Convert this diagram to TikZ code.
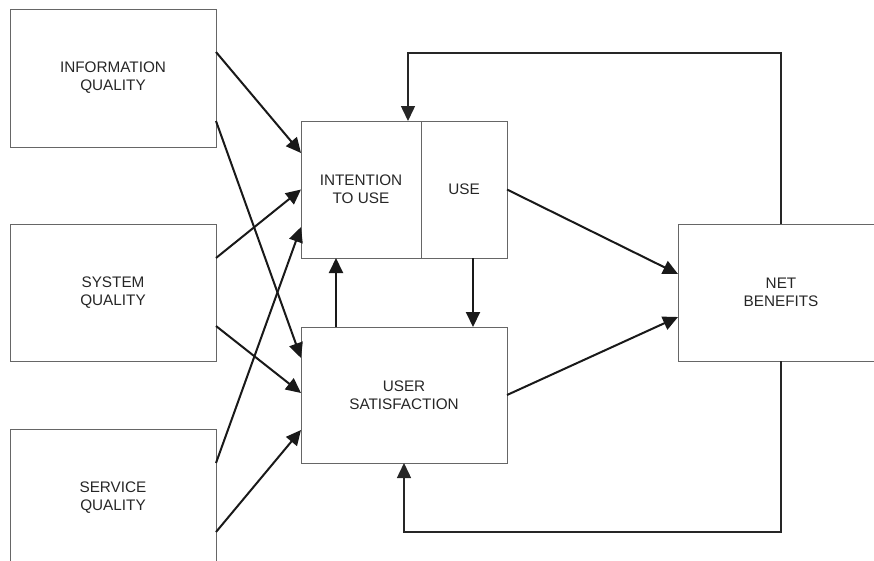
\documentclass[tikz,border=0pt]{standalone}
\usepackage{fontspec}
\setmainfont{Liberation Sans}
\usetikzlibrary{arrows.meta}
\begin{document}
\begin{tikzpicture}[x=1pt,y=-1pt,
  box/.style={draw=black!60, line width=1pt, rectangle, inner sep=0pt, outer sep=0pt,
    align=center, text=black!85, font=\fontsize{15.3pt}{18pt}\selectfont},
  arr/.style={draw=black!90, line width=2pt, -{Triangle[length=15pt,width=14pt]}},
  fb/.style={draw=black!85, line width=1.5pt, -{Triangle[length=15pt,width=14pt]}}]
\useasboundingbox (0,0) rectangle (874,560);
\clip (0,0) rectangle (874,560);
% boxes
\node[box, minimum width=206pt, minimum height=138pt] (iq) at (113,78) {INFORMATION\\QUALITY};
\node[box, minimum width=206pt, minimum height=137pt] (sq) at (113,292.5) {SYSTEM\\QUALITY};
\node[box, minimum width=206pt, minimum height=137pt] (svq) at (113,497.5) {SERVICE\\QUALITY};
\node[box, minimum width=120pt, minimum height=137pt] (int) at (361,189.5) {INTENTION\\TO USE};
\node[box, minimum width=86pt, minimum height=137pt] (use) at (464,189.5) {USE};
\node[box, minimum width=206pt, minimum height=136pt] (us) at (404,395) {USER\\SATISFACTION};
\node[box, minimum width=206pt, minimum height=137pt] (nb) at (781,292.5) {NET\\BENEFITS};
\coordinate (top) at (0,53);
\coordinate (bot) at (0,532);
% quality -> intention / satisfaction
\draw[arr] ([yshift=26pt]iq.east) -- ([yshift=36.5pt]int.west);
\draw[arr] ([yshift=-43pt]iq.east) -- ([yshift=37pt]us.west);
\draw[arr] ([yshift=34.5pt]sq.east) -- (int.west);
\draw[arr] ([yshift=-33.5pt]sq.east) -- ([yshift=2pt]us.west);
\draw[arr] ([yshift=34.5pt]svq.east) -- ([yshift=-37.5pt]int.west);
\draw[arr] ([yshift=-34.5pt]svq.east) -- ([yshift=-35pt]us.west);
% to net benefits
\draw[arr] (use.east) -- ([yshift=18.5pt]nb.west);
\draw[arr] (us.east) -- ([yshift=-24.5pt]nb.west);
% between intention/use and satisfaction
\draw[arr] ([xshift=-68pt]us.north) -- ([xshift=-25pt]int.south);
\draw[arr] ([xshift=9pt]use.south) -- ([xshift=69pt]us.north);
% feedback loops
\draw[fb] (nb.north) -- (nb.north |- top) -| ([xshift=47pt]int.north);
\draw[fb] (nb.south) -- (nb.south |- bot) -| (us.south);
\end{tikzpicture}
\end{document}
